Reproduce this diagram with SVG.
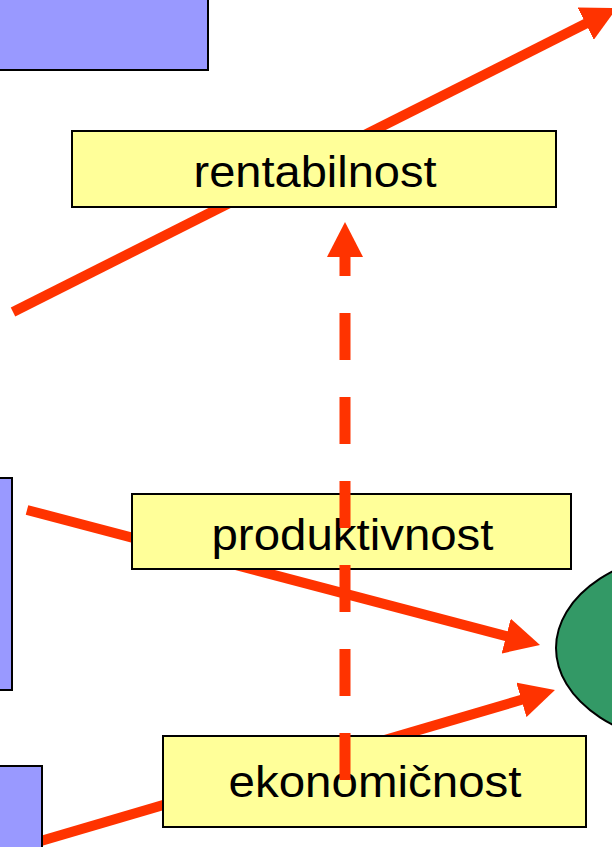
<svg xmlns="http://www.w3.org/2000/svg" width="612" height="847" viewBox="0 0 612 847">
<style>
.blue{fill:#9999FF;stroke:#000;stroke-width:2}
.yel{fill:#FFFF99;stroke:#000;stroke-width:2}
.lbl{font-family:"Liberation Sans",Arial,sans-serif;font-size:44px;fill:#000;text-anchor:middle}
.red{stroke:#FF3300;stroke-width:10;fill:none}
.dash{stroke:#FF3300;stroke-width:11;fill:none;stroke-dasharray:47 37}
</style>
<defs>
<marker id="ah" markerUnits="userSpaceOnUse" markerWidth="35" markerHeight="36" viewBox="0 0 35 36" refX="2" refY="18" orient="auto">
<path d="M0,0 L35,18 L0,36 Z" fill="#FF3300"/>
</marker>
</defs>
<rect width="612" height="847" fill="#fff"/>
<g id="connectors">
<line class="red" x1="13" y1="312" x2="587.5" y2="22.8" marker-end="url(#ah)"/>
<line class="red" x1="27" y1="510" x2="508.1" y2="636.6" marker-end="url(#ah)"/>
<line class="red" x1="0" y1="853" x2="523.3" y2="699.3" marker-end="url(#ah)"/>
</g>
<g id="box-top-left"><rect class="blue" x="-2" y="-2" width="210" height="72"/></g>
<g id="box-mid-left"><rect class="blue" x="-2" y="478" width="14" height="212"/></g>
<g id="box-bottom-left"><rect class="blue" x="-2" y="766" width="44" height="83"/></g>
<g id="ellipse-right"><ellipse cx="706" cy="648" rx="150" ry="98" fill="#339966" stroke="#000" stroke-width="2"/></g>
<g id="rentabilnost"><rect class="yel" x="72" y="131" width="484" height="76"/><text class="lbl" x="315" y="187" textLength="243" lengthAdjust="spacingAndGlyphs">rentabilnost</text></g>
<g id="produktivnost"><rect class="yel" x="132" y="494" width="439" height="75"/><text class="lbl" x="352.5" y="550" textLength="282" lengthAdjust="spacingAndGlyphs">produktivnost</text></g>
<g id="ekonomicnost"><rect class="yel" x="163" y="736" width="423" height="91"/><text class="lbl" x="375" y="797" textLength="293" lengthAdjust="spacingAndGlyphs">ekonomičnost</text></g>
<g id="dashed-connector">
<line class="dash" x1="345" y1="780" x2="345" y2="255" marker-end="url(#ah)"/>
</g>
</svg>
